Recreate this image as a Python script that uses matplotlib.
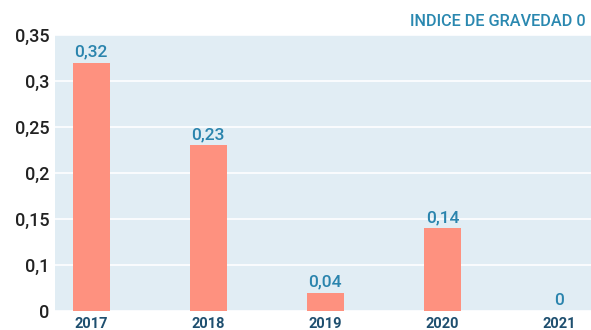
import numpy as np
import matplotlib.pyplot as plt

# Severity index per year
years = ["2017", "2018", "2019", "2020", "2021"]
indice = [0.32, 0.23, 0.04, 0.14, 0]
yticks = [0, 0.1, 0.15, 0.2, 0.25, 0.3, 0.35]
titulo = "INDICE DE GRAVEDAD 0"

plt.rcParams['font.family'] = ['Roboto', 'DejaVu Sans']


# Axis where 0 -> 0.1 takes one step and every 0.05 above takes one step
def forward(v):
    v = np.asarray(v, dtype=float)
    return np.where(v <= 0.1, v / 0.1, 1 + (v - 0.1) / 0.05)


def inverse(u):
    u = np.asarray(u, dtype=float)
    return np.where(u <= 1, u * 0.1, 0.1 + (u - 1) * 0.05)


fig = plt.figure(figsize=(5.91, 3.30), dpi=100)
ax = fig.add_axes([55 / 591, 19 / 330, 1 - 55 / 591, 276 / 330])
ax.set_facecolor("#e1edf4")
ax.set_yscale("function", functions=(forward, inverse))

x = np.arange(len(years))
ax.bar(x, indice, width=0.32, color="#fe917f", zorder=3)

for xi, v in zip(x, indice):
    txt = ("%.2f" % v).replace(".", ",") if v else "0"
    ax.annotate(txt, (xi, v), xytext=(0, 2), textcoords="offset points",
                ha="center", va="bottom", fontsize=12.5, color="#2a84ad",
                fontweight="medium")

ax.set_xlim(-0.31, 4.27)
ax.set_ylim(0, 0.35)
ax.set_yticks(yticks)
ax.set_yticklabels([("%g" % t).replace(".", ",") for t in yticks])
ax.set_xticks(x)
ax.set_xticklabels(years)
ax.yaxis.grid(True, color="white", linewidth=1.2, zorder=1)
ax.set_axisbelow(True)

for s in ax.spines.values():
    s.set_visible(False)
ax.tick_params(axis="both", length=0)
ax.tick_params(axis="y", pad=4, labelsize=13, labelcolor="#222222")
ax.tick_params(axis="x", pad=4, labelsize=10.5, labelcolor="#1e4f6f")
for lab in ax.get_xticklabels():
    lab.set_fontweight("bold")
for lab in ax.get_yticklabels():
    lab.set_fontweight("medium")

fig.text(410 / 591, 1 - 26 / 330, titulo, fontsize=11.7, color="#2a88b0",
         fontweight="medium", ha="left", va="baseline")

fig.savefig("out.png", dpi=100)
